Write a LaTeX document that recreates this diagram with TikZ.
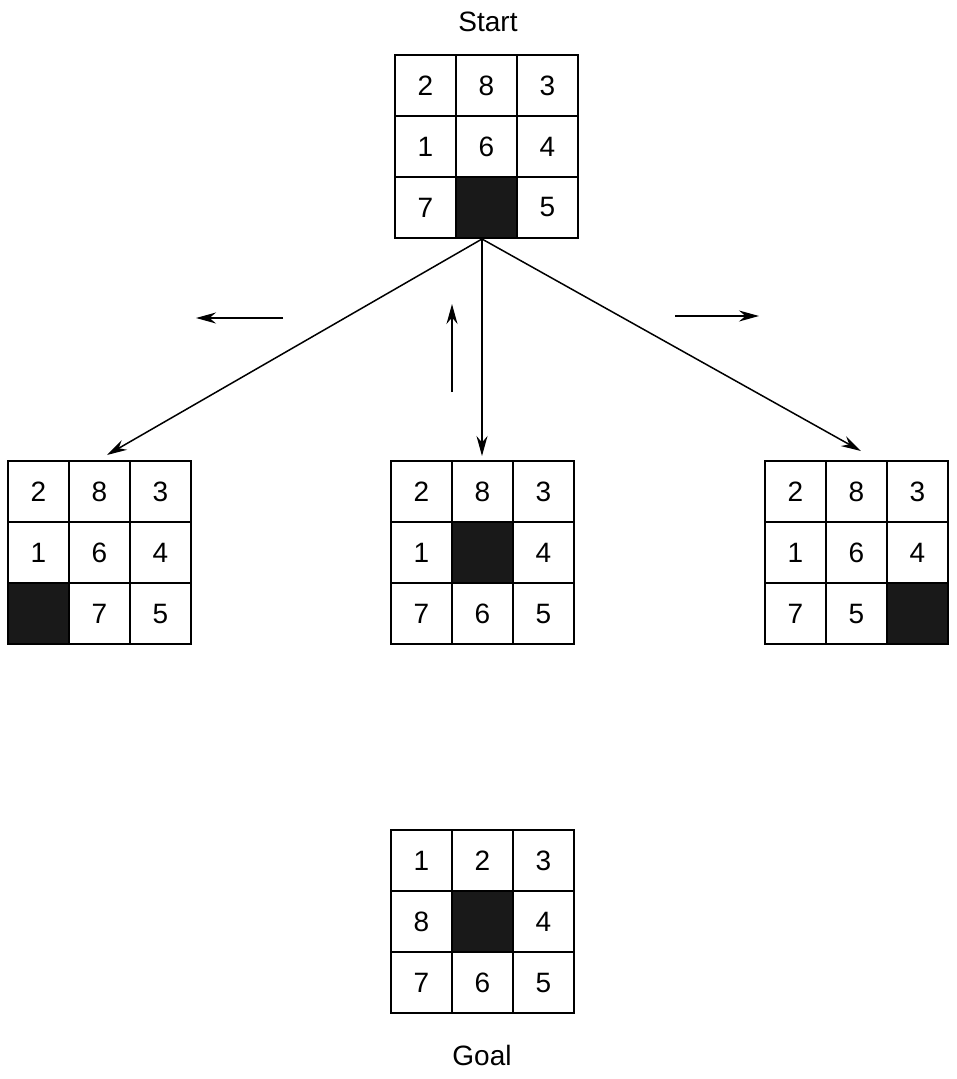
\documentclass[tikz,border=0pt]{standalone}
\usepackage{fontspec}
\setmainfont{Liberation Sans}
\usetikzlibrary{arrows.meta}
\tikzset{
 cell/.style={draw, line width=1.5pt, minimum size=61pt, inner sep=0pt, font=\fontsize{28}{34}\selectfont},
 hole/.style={cell, fill=black!90},
 arr/.style={line width=1.5pt, -{Stealth[length=20pt,width=11pt]}},
 lbl/.style={font=\fontsize{28}{34}\selectfont}
}
\newcommand\puzzle[5]{% name, x, y, list, blank index
  \node[minimum size=183pt, inner sep=0pt] (#1) at (#2+91.5,#3+91.5) {};
  \foreach \v [count=\i from 0] in {#4} {
    \pgfmathtruncatemacro\cc{mod(\i,3)}
    \pgfmathtruncatemacro\rr{div(\i,3)}
    \ifnum\i=#5\relax
      \node[hole] (#1-\i) at (#2+30.5+61*\cc,#3+30.5+61*\rr) {};
    \else
      \node[cell] (#1-\i) at (#2+30.5+61*\cc,#3+30.5+61*\rr) {\v};
    \fi
  }
}
\begin{document}
\begin{tikzpicture}[x=1pt,y=-1pt]
\useasboundingbox (0,0) rectangle (956,1079);
\puzzle{start}{395}{55}{2,8,3,1,6,4,7,,5}{7}
\puzzle{left}{8}{461}{2,8,3,1,6,4,,7,5}{6}
\puzzle{mid}{391}{461}{2,8,3,1,,4,7,6,5}{4}
\puzzle{right}{765}{461}{2,8,3,1,6,4,7,5,}{8}
\puzzle{goal}{391}{830}{1,2,3,8,,4,7,6,5}{4}
\node[lbl] (st) at (488,22) {Start};
\node[lbl] (gl) at (482,1055) {Goal};
\coordinate (o) at (482,239);
\coordinate (lt) at (107,455);
\coordinate (mt) at (482,456);
\coordinate (rt) at (861,451);
\draw[arr] (o) -- (lt);
\draw[arr] (o) -- (mt);
\draw[arr] (o) -- (rt);
\coordinate (a1) at (283,318); \coordinate (a2) at (196,318);
\coordinate (b1) at (452,392); \coordinate (b2) at (452,304);
\coordinate (c1) at (675,316); \coordinate (c2) at (759,316);
\draw[arr] (a1) -- (a2);
\draw[arr] (b1) -- (b2);
\draw[arr] (c1) -- (c2);
\end{tikzpicture}
\end{document}
